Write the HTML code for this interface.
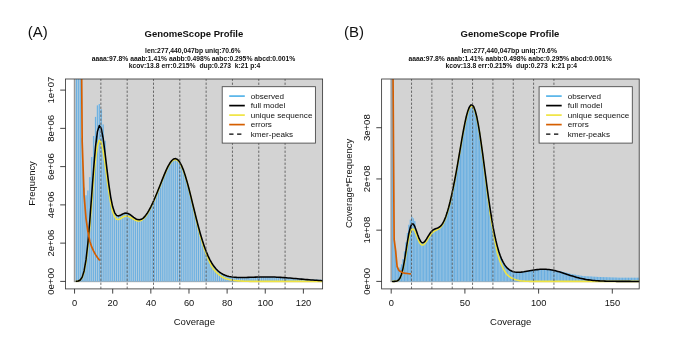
<!DOCTYPE html>
<html><head><meta charset="utf-8"><style>
html,body{margin:0;padding:0;background:#fff;}
svg{display:block;will-change:transform;}
text{font-family:"Liberation Sans",sans-serif;fill:#111;}
</style></head><body>
<svg width="685" height="341" viewBox="0 0 685 341">
<rect width="685" height="341" fill="#fff"/>
<clipPath id="ca"><rect x="65.5" y="79.0" width="257.1" height="209.89999999999998"/></clipPath>
<g clip-path="url(#ca)">
<rect x="74.55" y="74.0" width="253.05" height="207.4" fill="#D3D3D3" stroke="#999" stroke-width="1.5"/>
<path d="M76.46 281.4V77M78.36 281.4V77M80.27 281.4V77M82.18 281.4V137.92M84.08 281.4V187.66M85.99 281.4V195.31M87.9 281.4V190.53M89.81 281.4V177.14M91.71 281.4V157.05M93.62 281.4V136.01M95.53 281.4V116.88M97.43 281.4V105.4M99.34 281.4V104.06M101.25 281.4V109.23M103.16 281.4V124.53M105.06 281.4V140.79M106.97 281.4V169.38M108.88 281.4V184.79M110.78 281.4V197.56M112.69 281.4V206.85M114.6 281.4V212.61M116.5 281.4V215.37M118.41 281.4V215.96M120.32 281.4V215.31M122.22 281.4V214.25M124.13 281.4V213.39M126.04 281.4V213.09M127.95 281.4V213.48M129.85 281.4V214.48M131.76 281.4V215.88M133.67 281.4V217.38M135.57 281.4V218.7M137.48 281.4V219.58M139.39 281.4V219.83M141.3 281.4V219.35M143.2 281.4V218.11M145.11 281.4V216.15M147.02 281.4V213.54M148.92 281.4V210.39M150.83 281.4V206.78M152.74 281.4V202.8M154.64 281.4V198.51M156.55 281.4V193.98M158.46 281.4V189.27M160.37 281.4V184.44M162.27 281.4V179.6M164.18 281.4V174.88M166.09 281.4V170.42M167.99 281.4V166.4M169.9 281.4V163.03M171.81 281.4V160.5M173.71 281.4V158.97M175.62 281.4V158.6M177.53 281.4V159.46M179.44 281.4V161.61M181.34 281.4V165.01M183.25 281.4V169.58M185.16 281.4V175.19M187.06 281.4V181.67M188.97 281.4V188.81M190.88 281.4V196.39M192.78 281.4V204.2M194.69 281.4V212.03M196.6 281.4V219.7M198.5 281.4V227.05M200.41 281.4V233.96M202.32 281.4V240.34M204.23 281.4V246.14M206.13 281.4V251.31M208.04 281.4V255.87M209.95 281.4V259.83M211.85 281.4V263.22M213.76 281.4V266.09M215.67 281.4V268.49M217.57 281.4V270.48M219.48 281.4V272.1M221.39 281.4V273.4M223.3 281.4V274.45M225.2 281.4V275.27M227.11 281.4V275.91M229.02 281.4V276.41M230.92 281.4V276.77M232.83 281.4V277.04M234.74 281.4V277.23M236.64 281.4V277.36M238.55 281.4V277.43M240.46 281.4V277.47M242.37 281.4V277.47M244.27 281.4V277.45M246.18 281.4V277.41M248.09 281.4V277.36M249.99 281.4V277.3M251.9 281.4V277.24M253.81 281.4V277.18M255.71 281.4V277.12M257.62 281.4V277.07M259.53 281.4V277.02M261.44 281.4V276.98M263.34 281.4V276.96M265.25 281.4V276.94M267.16 281.4V276.95M269.06 281.4V276.96M270.97 281.4V276.99M272.88 281.4V277.04M274.79 281.4V277.1M276.69 281.4V277.18M278.6 281.4V277.27M280.51 281.4V277.38M282.41 281.4V277.5M284.32 281.4V277.63M286.23 281.4V277.77M288.13 281.4V277.92M290.04 281.4V277.98M291.95 281.4V278.04M293.86 281.4V278.14M295.76 281.4V278.28M297.67 281.4V278.42M299.58 281.4V278.56M301.48 281.4V278.7M303.39 281.4V278.83M305.3 281.4V278.97M307.2 281.4V279.11M309.11 281.4V279.23M311.02 281.4V279.31M312.93 281.4V279.4M314.83 281.4V279.49M316.74 281.4V279.58M318.65 281.4V279.67M320.55 281.4V279.76M322.46 281.4V279.84M324.37 281.4V279.91" stroke="#AACDE3" stroke-width="1.7" fill="none"/>
<path d="M76.46 281.4V77M78.36 281.4V77M80.27 281.4V77M82.18 281.4V137.92M84.08 281.4V187.66M85.99 281.4V195.31M87.9 281.4V190.53M89.81 281.4V177.14M91.71 281.4V157.05M93.62 281.4V136.01M95.53 281.4V116.88M97.43 281.4V105.4M99.34 281.4V104.06M101.25 281.4V109.23M103.16 281.4V124.53M105.06 281.4V140.79M106.97 281.4V169.38M108.88 281.4V184.79M110.78 281.4V197.56M112.69 281.4V206.85M114.6 281.4V212.61M116.5 281.4V215.37M118.41 281.4V215.96M120.32 281.4V215.31M122.22 281.4V214.25M124.13 281.4V213.39M126.04 281.4V213.09M127.95 281.4V213.48M129.85 281.4V214.48M131.76 281.4V215.88M133.67 281.4V217.38M135.57 281.4V218.7M137.48 281.4V219.58M139.39 281.4V219.83M141.3 281.4V219.35M143.2 281.4V218.11M145.11 281.4V216.15M147.02 281.4V213.54M148.92 281.4V210.39M150.83 281.4V206.78M152.74 281.4V202.8M154.64 281.4V198.51M156.55 281.4V193.98M158.46 281.4V189.27M160.37 281.4V184.44M162.27 281.4V179.6M164.18 281.4V174.88M166.09 281.4V170.42M167.99 281.4V166.4M169.9 281.4V163.03M171.81 281.4V160.5M173.71 281.4V158.97M175.62 281.4V158.6M177.53 281.4V159.46M179.44 281.4V161.61M181.34 281.4V165.01M183.25 281.4V169.58M185.16 281.4V175.19M187.06 281.4V181.67M188.97 281.4V188.81M190.88 281.4V196.39M192.78 281.4V204.2M194.69 281.4V212.03M196.6 281.4V219.7M198.5 281.4V227.05M200.41 281.4V233.96M202.32 281.4V240.34M204.23 281.4V246.14M206.13 281.4V251.31M208.04 281.4V255.87M209.95 281.4V259.83M211.85 281.4V263.22M213.76 281.4V266.09M215.67 281.4V268.49M217.57 281.4V270.48M219.48 281.4V272.1M221.39 281.4V273.4M223.3 281.4V274.45M225.2 281.4V275.27M227.11 281.4V275.91M229.02 281.4V276.41M230.92 281.4V276.77M232.83 281.4V277.04M234.74 281.4V277.23M236.64 281.4V277.36M238.55 281.4V277.43M240.46 281.4V277.47M242.37 281.4V277.47M244.27 281.4V277.45M246.18 281.4V277.41M248.09 281.4V277.36M249.99 281.4V277.3M251.9 281.4V277.24M253.81 281.4V277.18M255.71 281.4V277.12M257.62 281.4V277.07M259.53 281.4V277.02M261.44 281.4V276.98M263.34 281.4V276.96M265.25 281.4V276.94M267.16 281.4V276.95M269.06 281.4V276.96M270.97 281.4V276.99M272.88 281.4V277.04M274.79 281.4V277.1M276.69 281.4V277.18M278.6 281.4V277.27M280.51 281.4V277.38M282.41 281.4V277.5M284.32 281.4V277.63M286.23 281.4V277.77M288.13 281.4V277.92M290.04 281.4V277.98M291.95 281.4V278.04M293.86 281.4V278.14M295.76 281.4V278.28M297.67 281.4V278.42M299.58 281.4V278.56M301.48 281.4V278.7M303.39 281.4V278.83M305.3 281.4V278.97M307.2 281.4V279.11M309.11 281.4V279.23M311.02 281.4V279.31M312.93 281.4V279.4M314.83 281.4V279.49M316.74 281.4V279.58M318.65 281.4V279.67M320.55 281.4V279.76M322.46 281.4V279.84M324.37 281.4V279.91" stroke="#6AAEE0" stroke-width="1.0" fill="none"/>
<polyline points="76.46,281.34 78.36,281.08 80.27,280.12 82.18,277.53 84.08,271.96 85.99,261.94 87.9,246.61 89.81,226.29 91.71,202.83 93.62,179.31 95.53,159.28 97.43,145.7 99.34,140.21 101.25,142.54 103.16,151.18 105.06,164 106.97,178.41 108.88,192.05 110.78,203.41 112.69,211.7 114.6,216.82 116.5,219.18 118.41,219.53 120.32,218.72 122.22,217.54 124.13,216.55 126.04,216.09 127.95,216.27 129.85,216.99 131.76,218.07 133.67,219.25 135.57,220.28 137.48,220.92 139.39,221 141.3,220.4 143.2,219.07 145.11,217.03 147.02,214.36 148.92,211.16 150.83,207.53 152.74,203.52 154.64,199.22 156.55,194.67 158.46,189.95 160.37,185.13 162.27,180.32 164.18,175.62 166.09,171.19 167.99,167.21 169.9,163.86 171.81,161.34 173.71,159.83 175.62,159.46 177.53,160.32 179.44,162.45 181.34,165.82 183.25,170.37 185.16,175.94 187.06,182.37 188.97,189.45 190.88,197.12 192.78,205.19 194.69,213.32 196.6,221.24 198.5,228.8 200.41,235.93 202.32,242.5 204.23,248.42 206.13,253.67 208.04,258.31 209.95,262.66 211.85,266.61 213.76,269.38 215.67,271.59 217.57,273.49 219.48,275.07 221.39,276.44 223.3,277.59 225.2,278.46 227.11,279.09 229.02,279.58 230.92,279.96 232.83,280.27 234.74,280.53 236.64,280.75 238.55,280.92 240.46,281.06 242.37,281.17 244.27,281.24 246.18,281.28 248.09,281.32 249.99,281.34 251.9,281.36 253.81,281.37 255.71,281.39 257.62,281.4 259.53,281.4 261.44,281.4 263.34,281.4 265.25,281.4 267.16,281.4 269.06,281.4 270.97,281.4 272.88,281.4 274.79,281.4 276.69,281.4 278.6,281.4 280.51,281.4 282.41,281.4 284.32,281.4 286.23,281.4 288.13,281.4 290.04,281.4 291.95,281.4 293.86,281.4 295.76,281.4 297.67,281.4 299.58,281.4 301.48,281.4 303.39,281.4 305.3,281.4 307.2,281.4 309.11,281.4 311.02,281.4 312.93,281.4 314.83,281.4 316.74,281.4 318.65,281.4 320.55,281.4 322.46,281.4 324.37,281.4 326.27,281.4 328.18,281.4" fill="none" stroke="#F0E442" stroke-width="1.6" stroke-linejoin="round" stroke-linecap="round"/>
<polyline points="76.46,281.34 78.36,281.04 80.27,279.98 82.18,277.13 84.08,270.98 85.99,259.92 87.9,243 89.81,220.57 91.71,194.67 93.62,168.72 95.53,146.6 97.43,131.62 99.34,125.56 101.25,128.39 103.16,138.46 105.06,153.1 106.97,169.38 108.88,184.79 110.78,197.56 112.69,206.85 114.6,212.61 116.5,215.37 118.41,215.96 120.32,215.31 122.22,214.25 124.13,213.39 126.04,213.09 127.95,213.48 129.85,214.48 131.76,215.88 133.67,217.38 135.57,218.7 137.48,219.58 139.39,219.83 141.3,219.35 143.2,218.11 145.11,216.15 147.02,213.54 148.92,210.39 150.83,206.78 152.74,202.8 154.64,198.51 156.55,193.98 158.46,189.27 160.37,184.44 162.27,179.6 164.18,174.88 166.09,170.42 167.99,166.4 169.9,163.03 171.81,160.5 173.71,158.97 175.62,158.6 177.53,159.46 179.44,161.61 181.34,165.01 183.25,169.58 185.16,175.19 187.06,181.67 188.97,188.81 190.88,196.39 192.78,204.2 194.69,212.03 196.6,219.7 198.5,227.05 200.41,233.96 202.32,240.34 204.23,246.14 206.13,251.31 208.04,255.87 209.95,259.83 211.85,263.22 213.76,266.09 215.67,268.49 217.57,270.48 219.48,272.1 221.39,273.4 223.3,274.45 225.2,275.27 227.11,275.91 229.02,276.41 230.92,276.77 232.83,277.04 234.74,277.23 236.64,277.36 238.55,277.43 240.46,277.47 242.37,277.47 244.27,277.45 246.18,277.41 248.09,277.36 249.99,277.3 251.9,277.24 253.81,277.18 255.71,277.12 257.62,277.07 259.53,277.02 261.44,276.98 263.34,276.96 265.25,276.94 267.16,276.95 269.06,276.96 270.97,276.99 272.88,277.04 274.79,277.1 276.69,277.18 278.6,277.27 280.51,277.38 282.41,277.5 284.32,277.63 286.23,277.77 288.13,277.93 290.04,278.09 291.95,278.26 293.86,278.43 295.76,278.6 297.67,278.78 299.58,278.96 301.48,279.13 303.39,279.31 305.3,279.47 307.2,279.64 309.11,279.79 311.02,279.94 312.93,280.08 314.83,280.22 316.74,280.34 318.65,280.46 320.55,280.56 322.46,280.66 324.37,280.75 326.27,280.83 328.18,280.91" fill="none" stroke="#000" stroke-width="1.55" stroke-linejoin="round" stroke-linecap="round"/>
<polyline points="76.46,-2000 78.36,-502.93 80.27,-101.2 82.18,141.75 84.08,195.31 85.99,218.27 87.9,231.66 89.81,241.23 91.71,246.97 93.62,251.17 95.53,254.62 97.43,257.49 99.34,259.97" fill="none" stroke="#D55E00" stroke-width="1.7" stroke-linejoin="round" stroke-linecap="round"/>
<line x1="100.87" y1="288.9" x2="100.87" y2="79.0" stroke="#555" stroke-width="0.85" stroke-dasharray="2.3 1.7"/>
<line x1="127.18" y1="288.9" x2="127.18" y2="79.0" stroke="#555" stroke-width="0.85" stroke-dasharray="2.3 1.7"/>
<line x1="153.5" y1="288.9" x2="153.5" y2="79.0" stroke="#555" stroke-width="0.85" stroke-dasharray="2.3 1.7"/>
<line x1="179.82" y1="288.9" x2="179.82" y2="79.0" stroke="#555" stroke-width="0.85" stroke-dasharray="2.3 1.7"/>
<line x1="206.13" y1="288.9" x2="206.13" y2="79.0" stroke="#555" stroke-width="0.85" stroke-dasharray="2.3 1.7"/>
<line x1="232.45" y1="288.9" x2="232.45" y2="79.0" stroke="#555" stroke-width="0.85" stroke-dasharray="2.3 1.7"/>
<line x1="258.77" y1="288.9" x2="258.77" y2="79.0" stroke="#555" stroke-width="0.85" stroke-dasharray="2.3 1.7"/>
<line x1="285.08" y1="288.9" x2="285.08" y2="79.0" stroke="#555" stroke-width="0.85" stroke-dasharray="2.3 1.7"/>
</g>
<rect x="65.5" y="79.0" width="257.1" height="209.9" fill="none" stroke="#3a3a3a" stroke-width="0.85"/>
<line x1="74.55" y1="288.9" x2="74.55" y2="293.6" stroke="#222" stroke-width="0.85"/>
<text x="74.65" y="305.9" font-size="9.3" text-anchor="middle">0</text>
<line x1="112.69" y1="288.9" x2="112.69" y2="293.6" stroke="#222" stroke-width="0.85"/>
<text x="112.79" y="305.9" font-size="9.3" text-anchor="middle">20</text>
<line x1="150.83" y1="288.9" x2="150.83" y2="293.6" stroke="#222" stroke-width="0.85"/>
<text x="150.93" y="305.9" font-size="9.3" text-anchor="middle">40</text>
<line x1="188.97" y1="288.9" x2="188.97" y2="293.6" stroke="#222" stroke-width="0.85"/>
<text x="189.07" y="305.9" font-size="9.3" text-anchor="middle">60</text>
<line x1="227.11" y1="288.9" x2="227.11" y2="293.6" stroke="#222" stroke-width="0.85"/>
<text x="227.21" y="305.9" font-size="9.3" text-anchor="middle">80</text>
<line x1="265.25" y1="288.9" x2="265.25" y2="293.6" stroke="#222" stroke-width="0.85"/>
<text x="265.35" y="305.9" font-size="9.3" text-anchor="middle">100</text>
<line x1="303.39" y1="288.9" x2="303.39" y2="293.6" stroke="#222" stroke-width="0.85"/>
<text x="303.49" y="305.9" font-size="9.3" text-anchor="middle">120</text>
<line x1="60.2" y1="281.4" x2="65.5" y2="281.4" stroke="#222" stroke-width="0.85"/>
<text transform="translate(53.9 281.4) rotate(-90)" font-size="9.55" text-anchor="middle">0e+00</text>
<line x1="60.2" y1="243.14" x2="65.5" y2="243.14" stroke="#222" stroke-width="0.85"/>
<text transform="translate(53.9 243.14) rotate(-90)" font-size="9.55" text-anchor="middle">2e+06</text>
<line x1="60.2" y1="204.88" x2="65.5" y2="204.88" stroke="#222" stroke-width="0.85"/>
<text transform="translate(53.9 204.88) rotate(-90)" font-size="9.55" text-anchor="middle">4e+06</text>
<line x1="60.2" y1="166.62" x2="65.5" y2="166.62" stroke="#222" stroke-width="0.85"/>
<text transform="translate(53.9 166.62) rotate(-90)" font-size="9.55" text-anchor="middle">6e+06</text>
<line x1="60.2" y1="128.36" x2="65.5" y2="128.36" stroke="#222" stroke-width="0.85"/>
<text transform="translate(53.9 128.36) rotate(-90)" font-size="9.55" text-anchor="middle">8e+06</text>
<line x1="60.2" y1="90.1" x2="65.5" y2="90.1" stroke="#222" stroke-width="0.85"/>
<text transform="translate(53.9 90.1) rotate(-90)" font-size="9.55" text-anchor="middle">1e+07</text>
<text x="194.35" y="325.0" font-size="9.5" text-anchor="middle">Coverage</text>
<text transform="translate(35.4 183.45) rotate(-90)" font-size="9.45" text-anchor="middle">Frequency</text>
<text x="144.5" y="36.6" font-size="9.5" font-weight="bold">GenomeScope Profile</text>
<text x="145.1" y="52.5" font-size="6.77" font-weight="bold" style="white-space:pre">len:277,440,047bp uniq:70.6%</text>
<text x="91.8" y="60.5" font-size="6.77" font-weight="bold" style="white-space:pre">aaaa:97.8% aaab:1.41% aabb:0.498% aabc:0.295% abcd:0.001%</text>
<text x="128.7" y="68.4" font-size="6.77" font-weight="bold" style="white-space:pre">kcov:13.8 err:0.215%  dup:0.273  k:21 p:4</text>
<text x="27.67" y="37.4" font-size="15" fill="#1a1a1a">(A)</text>
<rect x="222.2" y="86.7" width="93.2" height="56.4" fill="#fff" stroke="#444" stroke-width="0.85"/>
<line x1="229.2" y1="96.1" x2="244.8" y2="96.1" stroke="#56B4E9" stroke-width="1.7"/>
<text x="250.76" y="98.9" font-size="8.1">observed</text>
<line x1="229.2" y1="105.6" x2="244.8" y2="105.6" stroke="#000" stroke-width="1.7"/>
<text x="250.76" y="108.4" font-size="8.1">full model</text>
<line x1="229.2" y1="115.1" x2="244.8" y2="115.1" stroke="#F0E442" stroke-width="1.7"/>
<text x="250.76" y="117.9" font-size="8.1">unique sequence</text>
<line x1="229.2" y1="124.6" x2="244.8" y2="124.6" stroke="#D55E00" stroke-width="1.7"/>
<text x="250.76" y="127.4" font-size="8.1">errors</text>
<line x1="229.2" y1="134.1" x2="244.8" y2="134.1" stroke="#000" stroke-width="1.1" stroke-dasharray="4.3 3.6"/>
<text x="250.76" y="136.9" font-size="8.1">kmer-peaks</text>
<clipPath id="cb"><rect x="381.6" y="79.0" width="257.6" height="209.89999999999998"/></clipPath>
<g clip-path="url(#cb)">
<rect x="391.2" y="74.0" width="253" height="207.4" fill="#D3D3D3" stroke="#999" stroke-width="1.5"/>
<path d="M392.67 281.4V77M394.15 281.4V239.39M395.62 281.4V250.66M397.1 281.4V266.03M398.57 281.4V268.85M400.04 281.4V267.57M401.52 281.4V264.37M402.99 281.4V259.06M404.47 281.4V251.43M405.94 281.4V242.47M407.41 281.4V232.94M408.89 281.4V224.84M410.36 281.4V219.66M411.84 281.4V216.85M413.31 281.4V218.39M414.78 281.4V221.15M416.26 281.4V230.4M417.73 281.4V234.83M419.21 281.4V238.74M420.68 281.4V241.47M422.15 281.4V242.72M423.63 281.4V242.5M425.1 281.4V241.09M426.58 281.4V238.92M428.05 281.4V236.44M429.52 281.4V234.04M431 281.4V232.01M432.47 281.4V230.47M433.95 281.4V229.43M435.42 281.4V228.76M436.89 281.4V228.26M438.37 281.4V227.67M439.84 281.4V226.77M441.32 281.4V225.34M442.79 281.4V223.24M444.26 281.4V220.38M445.74 281.4V216.75M447.21 281.4V212.35M448.69 281.4V207.24M450.16 281.4V201.47M451.63 281.4V195.09M453.11 281.4V188.17M454.58 281.4V180.73M456.06 281.4V172.84M457.53 281.4V164.56M459 281.4V156M460.48 281.4V147.32M461.95 281.4V138.74M463.43 281.4V130.5M464.9 281.4V122.91M466.37 281.4V116.28M467.85 281.4V110.91M469.32 281.4V107.1M470.8 281.4V105.07M472.27 281.4V104.96M473.74 281.4V106.85M475.22 281.4V110.72M476.69 281.4V116.44M478.17 281.4V123.82M479.64 281.4V132.62M481.11 281.4V142.52M482.59 281.4V153.21M484.06 281.4V164.36M485.54 281.4V175.65M487.01 281.4V186.79M488.48 281.4V197.55M489.96 281.4V207.73M491.43 281.4V217.18M492.91 281.4V225.81M494.38 281.4V233.55M495.85 281.4V240.39M497.33 281.4V246.35M498.8 281.4V251.48M500.28 281.4V255.82M501.75 281.4V259.46M503.22 281.4V262.46M504.7 281.4V264.91M506.17 281.4V266.88M507.65 281.4V268.44M509.12 281.4V269.65M510.59 281.4V270.57M512.07 281.4V271.24M513.54 281.4V271.71M515.02 281.4V272.02M516.49 281.4V272.2M517.96 281.4V272.26M519.44 281.4V272.23M520.91 281.4V272.14M522.39 281.4V271.98M523.86 281.4V271.79M525.33 281.4V271.56M526.81 281.4V271.31M528.28 281.4V271.05M529.76 281.4V270.78M531.23 281.4V270.51M532.7 281.4V270.26M534.18 281.4V270.02M535.65 281.4V269.81M537.13 281.4V269.62M538.6 281.4V269.47M540.07 281.4V269.35M541.55 281.4V269.28M543.02 281.4V269.24M544.5 281.4V269.25M545.97 281.4V269.31M547.44 281.4V269.42M548.92 281.4V269.57M550.39 281.4V269.77M551.87 281.4V270.01M553.34 281.4V270.3M554.81 281.4V270.62M556.29 281.4V270.96M557.76 281.4V271.05M559.24 281.4V271.15M560.71 281.4V271.36M562.18 281.4V271.71M563.66 281.4V272.06M565.13 281.4V272.42M566.61 281.4V272.78M568.08 281.4V273.15M569.55 281.4V273.54M571.03 281.4V273.92M572.5 281.4V274.24M573.98 281.4V274.47M575.45 281.4V274.71M576.92 281.4V274.96M578.4 281.4V275.21M579.87 281.4V275.46M581.35 281.4V275.72M582.82 281.4V275.98M584.29 281.4V276.16M585.77 281.4V276.24M587.24 281.4V276.32M588.72 281.4V276.4M590.19 281.4V276.49M591.66 281.4V276.57M593.14 281.4V276.66M594.61 281.4V276.75M596.09 281.4V276.83M597.56 281.4V276.88M599.03 281.4V276.94M600.51 281.4V277M601.98 281.4V277.06M603.46 281.4V277.13M604.93 281.4V277.19M606.4 281.4V277.26M607.88 281.4V277.31M609.35 281.4V277.36M610.83 281.4V277.41M612.3 281.4V277.46M613.77 281.4V277.51M615.25 281.4V277.56M616.72 281.4V277.61M618.2 281.4V277.67M619.67 281.4V277.69M621.14 281.4V277.69M622.62 281.4V277.69M624.09 281.4V277.7M625.57 281.4V277.7M627.04 281.4V277.7M628.51 281.4V277.71M629.99 281.4V277.71M631.46 281.4V277.72M632.94 281.4V277.73M634.41 281.4V277.73M635.88 281.4V277.74M637.36 281.4V277.73M638.83 281.4V277.71M640.31 281.4V277.7" stroke="#AACDE3" stroke-width="1.7" fill="none"/>
<path d="M392.67 281.4V77M394.15 281.4V239.39M395.62 281.4V250.66M397.1 281.4V266.03M398.57 281.4V268.85M400.04 281.4V267.57M401.52 281.4V264.37M402.99 281.4V259.06M404.47 281.4V251.43M405.94 281.4V242.47M407.41 281.4V232.94M408.89 281.4V224.84M410.36 281.4V219.66M411.84 281.4V216.85M413.31 281.4V218.39M414.78 281.4V221.15M416.26 281.4V230.4M417.73 281.4V234.83M419.21 281.4V238.74M420.68 281.4V241.47M422.15 281.4V242.72M423.63 281.4V242.5M425.1 281.4V241.09M426.58 281.4V238.92M428.05 281.4V236.44M429.52 281.4V234.04M431 281.4V232.01M432.47 281.4V230.47M433.95 281.4V229.43M435.42 281.4V228.76M436.89 281.4V228.26M438.37 281.4V227.67M439.84 281.4V226.77M441.32 281.4V225.34M442.79 281.4V223.24M444.26 281.4V220.38M445.74 281.4V216.75M447.21 281.4V212.35M448.69 281.4V207.24M450.16 281.4V201.47M451.63 281.4V195.09M453.11 281.4V188.17M454.58 281.4V180.73M456.06 281.4V172.84M457.53 281.4V164.56M459 281.4V156M460.48 281.4V147.32M461.95 281.4V138.74M463.43 281.4V130.5M464.9 281.4V122.91M466.37 281.4V116.28M467.85 281.4V110.91M469.32 281.4V107.1M470.8 281.4V105.07M472.27 281.4V104.96M473.74 281.4V106.85M475.22 281.4V110.72M476.69 281.4V116.44M478.17 281.4V123.82M479.64 281.4V132.62M481.11 281.4V142.52M482.59 281.4V153.21M484.06 281.4V164.36M485.54 281.4V175.65M487.01 281.4V186.79M488.48 281.4V197.55M489.96 281.4V207.73M491.43 281.4V217.18M492.91 281.4V225.81M494.38 281.4V233.55M495.85 281.4V240.39M497.33 281.4V246.35M498.8 281.4V251.48M500.28 281.4V255.82M501.75 281.4V259.46M503.22 281.4V262.46M504.7 281.4V264.91M506.17 281.4V266.88M507.65 281.4V268.44M509.12 281.4V269.65M510.59 281.4V270.57M512.07 281.4V271.24M513.54 281.4V271.71M515.02 281.4V272.02M516.49 281.4V272.2M517.96 281.4V272.26M519.44 281.4V272.23M520.91 281.4V272.14M522.39 281.4V271.98M523.86 281.4V271.79M525.33 281.4V271.56M526.81 281.4V271.31M528.28 281.4V271.05M529.76 281.4V270.78M531.23 281.4V270.51M532.7 281.4V270.26M534.18 281.4V270.02M535.65 281.4V269.81M537.13 281.4V269.62M538.6 281.4V269.47M540.07 281.4V269.35M541.55 281.4V269.28M543.02 281.4V269.24M544.5 281.4V269.25M545.97 281.4V269.31M547.44 281.4V269.42M548.92 281.4V269.57M550.39 281.4V269.77M551.87 281.4V270.01M553.34 281.4V270.3M554.81 281.4V270.62M556.29 281.4V270.96M557.76 281.4V271.05M559.24 281.4V271.15M560.71 281.4V271.36M562.18 281.4V271.71M563.66 281.4V272.06M565.13 281.4V272.42M566.61 281.4V272.78M568.08 281.4V273.15M569.55 281.4V273.54M571.03 281.4V273.92M572.5 281.4V274.24M573.98 281.4V274.47M575.45 281.4V274.71M576.92 281.4V274.96M578.4 281.4V275.21M579.87 281.4V275.46M581.35 281.4V275.72M582.82 281.4V275.98M584.29 281.4V276.16M585.77 281.4V276.24M587.24 281.4V276.32M588.72 281.4V276.4M590.19 281.4V276.49M591.66 281.4V276.57M593.14 281.4V276.66M594.61 281.4V276.75M596.09 281.4V276.83M597.56 281.4V276.88M599.03 281.4V276.94M600.51 281.4V277M601.98 281.4V277.06M603.46 281.4V277.13M604.93 281.4V277.19M606.4 281.4V277.26M607.88 281.4V277.31M609.35 281.4V277.36M610.83 281.4V277.41M612.3 281.4V277.46M613.77 281.4V277.51M615.25 281.4V277.56M616.72 281.4V277.61M618.2 281.4V277.67M619.67 281.4V277.69M621.14 281.4V277.69M622.62 281.4V277.69M624.09 281.4V277.7M625.57 281.4V277.7M627.04 281.4V277.7M628.51 281.4V277.71M629.99 281.4V277.71M631.46 281.4V277.72M632.94 281.4V277.73M634.41 281.4V277.73M635.88 281.4V277.74M637.36 281.4V277.73M638.83 281.4V277.71M640.31 281.4V277.7" stroke="#6AAEE0" stroke-width="1.0" fill="none"/>
<polyline points="392.67,281.4 394.15,281.38 395.62,281.3 397.1,280.99 398.57,280.14 400.04,278.27 401.52,274.88 402.99,269.59 404.47,262.46 405.94,254.06 407.41,245.42 408.89,237.79 410.36,232.25 411.84,229.34 413.31,229.09 414.78,231.1 416.26,234.51 417.73,238.33 419.21,241.72 420.68,244.07 422.15,245.08 423.63,244.74 425.1,243.29 426.58,241.12 428.05,238.65 429.52,236.25 431,234.18 432.47,232.56 433.95,231.38 435.42,230.52 436.89,229.81 438.37,229.02 439.84,227.95 441.32,226.41 442.79,224.23 444.26,221.3 445.74,217.62 447.21,213.18 448.69,208.04 450.16,202.27 451.63,195.89 453.11,188.97 454.58,181.53 456.06,173.64 457.53,165.39 459,156.88 460.48,148.26 461.95,139.73 463.43,131.56 464.9,124.02 466.37,117.43 467.85,112.11 469.32,108.32 470.8,106.3 472.27,106.2 473.74,108.07 475.22,111.91 476.69,117.59 478.17,124.93 479.64,133.66 481.11,143.72 482.59,154.87 484.06,166.55 485.54,178.29 487.01,189.85 488.48,201.04 489.96,211.6 491.43,221.34 492.91,230.15 494.38,238.12 495.85,245.77 497.33,252.88 498.8,257.9 500.28,261.96 501.75,265.51 503.22,268.52 504.7,271.18 506.17,273.45 507.65,275.18 509.12,276.45 510.59,277.45 512.07,278.24 513.54,278.88 515.02,279.44 516.49,279.93 517.96,280.3 519.44,280.6 520.91,280.86 522.39,281.02 523.86,281.12 525.33,281.19 526.81,281.25 528.28,281.3 529.76,281.33 531.23,281.37 532.7,281.39 534.18,281.4 535.65,281.4 537.13,281.4 538.6,281.4 540.07,281.4 541.55,281.4 543.02,281.4 544.5,281.4 545.97,281.4 547.44,281.4 548.92,281.4 550.39,281.4 551.87,281.4 553.34,281.4 554.81,281.4 556.29,281.4 557.76,281.4 559.24,281.4 560.71,281.4 562.18,281.4 563.66,281.4 565.13,281.4 566.61,281.4 568.08,281.4 569.55,281.4 571.03,281.4 572.5,281.4 573.98,281.4 575.45,281.4 576.92,281.4 578.4,281.4 579.87,281.4 581.35,281.4 582.82,281.4 584.29,281.4 585.77,281.4 587.24,281.4 588.72,281.4 590.19,281.4 591.66,281.4 593.14,281.4 594.61,281.4 596.09,281.4 597.56,281.4 599.03,281.4 600.51,281.4 601.98,281.4 603.46,281.4 604.93,281.4 606.4,281.4 607.88,281.4 609.35,281.4 610.83,281.4 612.3,281.4 613.77,281.4 615.25,281.4 616.72,281.4 618.2,281.4 619.67,281.4 621.14,281.4 622.62,281.4 624.09,281.4 625.57,281.4 627.04,281.4 628.51,281.4 629.99,281.4 631.46,281.4 632.94,281.4 634.41,281.4 635.88,281.4 637.36,281.4 638.83,281.4 640.31,281.4 641.78,281.4 643.25,281.4" fill="none" stroke="#F0E442" stroke-width="1.6" stroke-linejoin="round" stroke-linecap="round"/>
<polyline points="392.67,281.4 394.15,281.38 395.62,281.29 397.1,280.94 398.57,280 400.04,277.95 401.52,274.2 402.99,268.37 404.47,260.5 405.94,251.22 407.41,241.69 408.89,233.27 410.36,227.15 411.84,224.03 413.31,223.98 414.78,226.42 416.26,230.4 417.73,234.83 419.21,238.74 420.68,241.47 422.15,242.72 423.63,242.5 425.1,241.09 426.58,238.92 428.05,236.44 429.52,234.04 431,232.01 432.47,230.47 433.95,229.43 435.42,228.76 436.89,228.26 438.37,227.67 439.84,226.77 441.32,225.34 442.79,223.24 444.26,220.38 445.74,216.75 447.21,212.35 448.69,207.24 450.16,201.47 451.63,195.09 453.11,188.17 454.58,180.73 456.06,172.84 457.53,164.56 459,156 460.48,147.32 461.95,138.74 463.43,130.5 464.9,122.91 466.37,116.28 467.85,110.91 469.32,107.1 470.8,105.07 472.27,104.96 473.74,106.85 475.22,110.72 476.69,116.44 478.17,123.82 479.64,132.62 481.11,142.52 482.59,153.21 484.06,164.36 485.54,175.65 487.01,186.79 488.48,197.55 489.96,207.73 491.43,217.18 492.91,225.81 494.38,233.55 495.85,240.39 497.33,246.35 498.8,251.48 500.28,255.82 501.75,259.46 503.22,262.46 504.7,264.91 506.17,266.88 507.65,268.44 509.12,269.65 510.59,270.57 512.07,271.24 513.54,271.71 515.02,272.02 516.49,272.2 517.96,272.26 519.44,272.23 520.91,272.14 522.39,271.98 523.86,271.79 525.33,271.56 526.81,271.31 528.28,271.05 529.76,270.78 531.23,270.51 532.7,270.26 534.18,270.02 535.65,269.81 537.13,269.62 538.6,269.47 540.07,269.35 541.55,269.28 543.02,269.24 544.5,269.25 545.97,269.31 547.44,269.42 548.92,269.57 550.39,269.77 551.87,270.01 553.34,270.3 554.81,270.62 556.29,270.98 557.76,271.38 559.24,271.8 560.71,272.25 562.18,272.72 563.66,273.2 565.13,273.68 566.61,274.18 568.08,274.67 569.55,275.16 571.03,275.64 572.5,276.11 573.98,276.56 575.45,276.99 576.92,277.41 578.4,277.8 579.87,278.17 581.35,278.51 582.82,278.83 584.29,279.12 585.77,279.39 587.24,279.64 588.72,279.86 590.19,280.06 591.66,280.24 593.14,280.4 594.61,280.54 596.09,280.67 597.56,280.78 599.03,280.87 600.51,280.96 601.98,281.03 603.46,281.09 604.93,281.14 606.4,281.18 607.88,281.22 609.35,281.25 610.83,281.28 612.3,281.3 613.77,281.32 615.25,281.34 616.72,281.35 618.2,281.36 619.67,281.37 621.14,281.37 622.62,281.38 624.09,281.38 625.57,281.39 627.04,281.39 628.51,281.39 629.99,281.39 631.46,281.4 632.94,281.4 634.41,281.4 635.88,281.4 637.36,281.4 638.83,281.4 640.31,281.4 641.78,281.4 643.25,281.4" fill="none" stroke="#000" stroke-width="1.55" stroke-linejoin="round" stroke-linecap="round"/>
<polyline points="392.67,25.25 394.15,239.39 395.62,250.66 397.1,266.44 398.57,269.87 400.04,271.26 401.52,272.08 402.99,272.79 404.47,273.1 405.94,273.31 407.41,273.51 408.89,273.72 410.36,273.94" fill="none" stroke="#D55E00" stroke-width="1.7" stroke-linejoin="round" stroke-linecap="round"/>
<line x1="411.54" y1="288.9" x2="411.54" y2="79.0" stroke="#555" stroke-width="0.85" stroke-dasharray="2.3 1.7"/>
<line x1="431.88" y1="288.9" x2="431.88" y2="79.0" stroke="#555" stroke-width="0.85" stroke-dasharray="2.3 1.7"/>
<line x1="452.22" y1="288.9" x2="452.22" y2="79.0" stroke="#555" stroke-width="0.85" stroke-dasharray="2.3 1.7"/>
<line x1="472.56" y1="288.9" x2="472.56" y2="79.0" stroke="#555" stroke-width="0.85" stroke-dasharray="2.3 1.7"/>
<line x1="492.91" y1="288.9" x2="492.91" y2="79.0" stroke="#555" stroke-width="0.85" stroke-dasharray="2.3 1.7"/>
<line x1="513.25" y1="288.9" x2="513.25" y2="79.0" stroke="#555" stroke-width="0.85" stroke-dasharray="2.3 1.7"/>
<line x1="533.59" y1="288.9" x2="533.59" y2="79.0" stroke="#555" stroke-width="0.85" stroke-dasharray="2.3 1.7"/>
<line x1="553.93" y1="288.9" x2="553.93" y2="79.0" stroke="#555" stroke-width="0.85" stroke-dasharray="2.3 1.7"/>
</g>
<rect x="381.6" y="79.0" width="257.6" height="209.9" fill="none" stroke="#3a3a3a" stroke-width="0.85"/>
<line x1="391.2" y1="288.9" x2="391.2" y2="293.6" stroke="#222" stroke-width="0.85"/>
<text x="391.3" y="305.9" font-size="9.3" text-anchor="middle">0</text>
<line x1="464.9" y1="288.9" x2="464.9" y2="293.6" stroke="#222" stroke-width="0.85"/>
<text x="465" y="305.9" font-size="9.3" text-anchor="middle">50</text>
<line x1="538.6" y1="288.9" x2="538.6" y2="293.6" stroke="#222" stroke-width="0.85"/>
<text x="538.7" y="305.9" font-size="9.3" text-anchor="middle">100</text>
<line x1="612.3" y1="288.9" x2="612.3" y2="293.6" stroke="#222" stroke-width="0.85"/>
<text x="612.4" y="305.9" font-size="9.3" text-anchor="middle">150</text>
<line x1="376.3" y1="281.4" x2="381.6" y2="281.4" stroke="#222" stroke-width="0.85"/>
<text transform="translate(370 281.4) rotate(-90)" font-size="9.55" text-anchor="middle">0e+00</text>
<line x1="376.3" y1="230.17" x2="381.6" y2="230.17" stroke="#222" stroke-width="0.85"/>
<text transform="translate(370 230.17) rotate(-90)" font-size="9.55" text-anchor="middle">1e+08</text>
<line x1="376.3" y1="178.94" x2="381.6" y2="178.94" stroke="#222" stroke-width="0.85"/>
<text transform="translate(370 178.94) rotate(-90)" font-size="9.55" text-anchor="middle">2e+08</text>
<line x1="376.3" y1="127.71" x2="381.6" y2="127.71" stroke="#222" stroke-width="0.85"/>
<text transform="translate(370 127.71) rotate(-90)" font-size="9.55" text-anchor="middle">3e+08</text>
<text x="510.7" y="325.0" font-size="9.5" text-anchor="middle">Coverage</text>
<text transform="translate(351.5 183.45) rotate(-90)" font-size="9.45" text-anchor="middle">Coverage*Frequency</text>
<text x="460.6" y="36.6" font-size="9.5" font-weight="bold">GenomeScope Profile</text>
<text x="461.4" y="52.5" font-size="6.77" font-weight="bold" style="white-space:pre">len:277,440,047bp uniq:70.6%</text>
<text x="408.4" y="60.5" font-size="6.77" font-weight="bold" style="white-space:pre">aaaa:97.8% aaab:1.41% aabb:0.498% aabc:0.295% abcd:0.001%</text>
<text x="445.4" y="68.4" font-size="6.77" font-weight="bold" style="white-space:pre">kcov:13.8 err:0.215%  dup:0.273  k:21 p:4</text>
<text x="343.97" y="37.3" font-size="15" fill="#1a1a1a">(B)</text>
<rect x="539.1" y="86.7" width="93.2" height="56.4" fill="#fff" stroke="#444" stroke-width="0.85"/>
<line x1="546.1" y1="96.1" x2="561.7" y2="96.1" stroke="#56B4E9" stroke-width="1.7"/>
<text x="567.66" y="98.9" font-size="8.1">observed</text>
<line x1="546.1" y1="105.6" x2="561.7" y2="105.6" stroke="#000" stroke-width="1.7"/>
<text x="567.66" y="108.4" font-size="8.1">full model</text>
<line x1="546.1" y1="115.1" x2="561.7" y2="115.1" stroke="#F0E442" stroke-width="1.7"/>
<text x="567.66" y="117.9" font-size="8.1">unique sequence</text>
<line x1="546.1" y1="124.6" x2="561.7" y2="124.6" stroke="#D55E00" stroke-width="1.7"/>
<text x="567.66" y="127.4" font-size="8.1">errors</text>
<line x1="546.1" y1="134.1" x2="561.7" y2="134.1" stroke="#000" stroke-width="1.1" stroke-dasharray="4.3 3.6"/>
<text x="567.66" y="136.9" font-size="8.1">kmer-peaks</text>
</svg>
</body></html>
